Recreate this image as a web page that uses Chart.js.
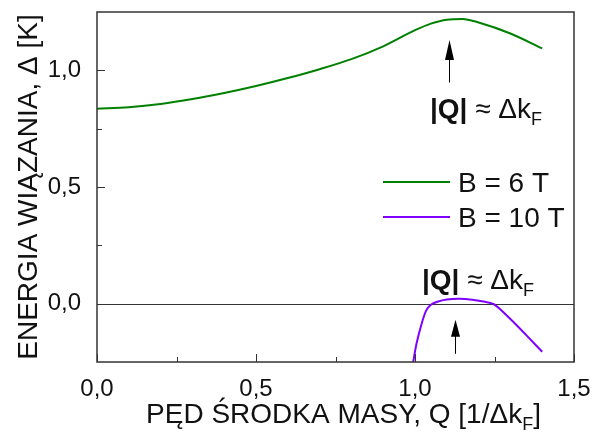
<!DOCTYPE html>
<html>
<head>
<meta charset="utf-8">
<script src="https://cdn.jsdelivr.net/npm/chart.js@4.4.1/dist/chart.umd.min.js"></script>
<style>
  html, body { margin: 0; padding: 0; background: #fff; }
  #wrap { width: 592px; height: 434px; }
</style>
</head>
<body>
<div id="wrap"><canvas id="chart" width="592" height="434"></canvas></div>
<script>
// energia wiązania w funkcji pędu środka masy
const Q_6T = [0.00, 0.10, 0.20, 0.30, 0.40, 0.50, 0.60, 0.70, 0.80, 0.90, 1.00, 1.05, 1.10, 1.15, 1.20, 1.30, 1.40];
const D_6T = [0.835, 0.842, 0.856, 0.877, 0.903, 0.933, 0.967, 1.005, 1.048, 1.103, 1.172, 1.200, 1.217, 1.220, 1.205, 1.158, 1.094];
const Q_10T = [0.993, 1.005, 1.020, 1.035, 1.050, 1.070, 1.100, 1.140, 1.180, 1.220, 1.250, 1.300, 1.350, 1.400];
const D_10T = [-0.26, -0.17, -0.09, -0.03, -0.005, 0.008, 0.018, 0.021, 0.017, 0.008, -0.004, -0.066, -0.135, -0.206];
const SERIES = ['B = 6 T', 'B = 10 T'];
const COLORS = ['#008000', '#8000ff'];

const X_TICKS = [0, 0.5, 1.0, 1.5];
const X_MINOR = [0.25, 0.75, 1.25];
const Y_TICKS = [0, 0.5, 1.0];
const Y_MINOR = [0.25, 0.75];

// strzałki |Q| ≈ Δk_F: położenie Q, początek i grot (w jednostkach Δ)
const ARROW_Q = [1.107, 1.126];
const ARROW_FROM = [0.948, -0.215];
const ARROW_TO = [1.130, -0.069];
const NOTE_Q = [1.047, 1.022];
const NOTE_D = [0.794, 0.064];

const FONT = '"Liberation Sans", Arial, sans-serif';
const fmt = v => v.toFixed(1).replace('.', ',');
const isMajor = (v, list) => list.some(t => Math.abs(t - v) < 1e-9);
const pts = (xs, ys) => xs.map((x, i) => ({ x, y: ys[i] }));

// tekst z pogrubieniem i indeksem dolnym
function drawRuns(ctx, runs, x, y, align) {
  let w = 0;
  runs.forEach(r => { ctx.font = r.font; w += ctx.measureText(r.text).width; });
  let cx = align === 'center' ? x - w / 2 : x;
  ctx.textAlign = 'left'; ctx.textBaseline = 'alphabetic';
  runs.forEach(r => {
    ctx.font = r.font;
    ctx.fillText(r.text, cx, y + (r.dy || 0));
    cx += ctx.measureText(r.text).width;
  });
}
const qRuns = () => [
  { text: '|Q|', font: 'bold 28px ' + FONT },
  { text: ' \u2248 \u0394k', font: '28px ' + FONT },
  { text: 'F', font: '18px ' + FONT, dy: 7 },
];

const decor = {
  id: 'decor',
  beforeDatasetsDraw(chart) {
    const { ctx, chartArea: a, scales: { y } } = chart;
    ctx.save();
    // linia zerowa
    ctx.strokeStyle = '#333'; ctx.lineWidth = 1;
    const y0 = Math.round(y.getPixelForValue(0)) + 0.5;
    ctx.beginPath(); ctx.moveTo(a.left, y0); ctx.lineTo(a.right, y0); ctx.stroke();
    ctx.restore();
  },
  afterDatasetsDraw(chart) {
    const { ctx, chartArea: a, scales: { x, y } } = chart;
    ctx.save();
    // ramka
    ctx.strokeStyle = '#333'; ctx.lineWidth = 1.5;
    ctx.strokeRect(a.left, a.top, a.right - a.left, a.bottom - a.top);
    // znaczniki osi do wewnątrz
    ctx.lineWidth = 1;
    X_TICKS.concat(X_MINOR).forEach(v => {
      const px = Math.round(x.getPixelForValue(v)) + 0.5, len = isMajor(v, X_TICKS) ? 8 : 5;
      ctx.beginPath(); ctx.moveTo(px, a.bottom); ctx.lineTo(px, a.bottom - len); ctx.stroke();
    });
    Y_TICKS.concat(Y_MINOR).forEach(v => {
      const py = Math.round(y.getPixelForValue(v)) + 0.5, len = isMajor(v, Y_TICKS) ? 8 : 5;
      ctx.beginPath(); ctx.moveTo(a.left, py); ctx.lineTo(a.left + len, py); ctx.stroke();
    });

    // legenda
    ctx.fillStyle = '#111';
    SERIES.forEach((s, i) => {
      const ly = 182 + i * 35;
      ctx.strokeStyle = COLORS[i]; ctx.lineWidth = 2;
      ctx.beginPath(); ctx.moveTo(383, ly); ctx.lineTo(450, ly); ctx.stroke();
      ctx.font = '28px ' + FONT; ctx.textAlign = 'left'; ctx.textBaseline = 'alphabetic';
      ctx.fillText(s, 458, ly + 10);
    });

    // strzałki i opisy
    ctx.strokeStyle = '#000'; ctx.fillStyle = '#000'; ctx.lineWidth = 1;
    ARROW_Q.forEach((q, i) => {
      const px = Math.round(x.getPixelForValue(q)) + 0.5;
      const yb = y.getPixelForValue(ARROW_FROM[i]), yt = y.getPixelForValue(ARROW_TO[i]);
      const head = i === 0 ? 20 : 17;
      ctx.beginPath(); ctx.moveTo(px, yb); ctx.lineTo(px, yt + head - 2); ctx.stroke();
      ctx.beginPath(); ctx.moveTo(px, yt); ctx.lineTo(px - 4.5, yt + head); ctx.lineTo(px + 4.5, yt + head); ctx.closePath(); ctx.fill();
    });
    ctx.fillStyle = '#111';
    NOTE_Q.forEach((q, i) => drawRuns(ctx, qRuns(), x.getPixelForValue(q), y.getPixelForValue(NOTE_D[i]), 'left'));

    // tytuł osi X
    drawRuns(ctx, [
      { text: 'P\u0118D \u015aRODKA MASY, Q [1/\u0394k', font: '28px ' + FONT },
      { text: 'F', font: '18px ' + FONT, dy: 7 },
      { text: ']', font: '28px ' + FONT },
    ], (a.left + a.right) / 2 + 8, 423, 'center');
    ctx.restore();
  },
};

new Chart(document.getElementById('chart'), {
  type: 'line',
  data: {
    datasets: [
      { label: SERIES[0], data: pts(Q_6T, D_6T), borderColor: COLORS[0], borderWidth: 2, pointRadius: 0, tension: 0.4, cubicInterpolationMode: 'monotone', fill: false, clip: 0 },
      { label: SERIES[1], data: pts(Q_10T, D_10T), borderColor: COLORS[1], borderWidth: 2, pointRadius: 0, tension: 0.3, fill: false, clip: 0 },
    ],
  },
  options: {
    responsive: false, animation: false,
    layout: { padding: { top: 12, right: 18, left: 0, bottom: 0 } },
    plugins: { legend: { display: false }, tooltip: { enabled: false } },
    scales: {
      x: {
        type: 'linear', min: 0, max: 1.5,
        afterBuildTicks: s => { s.ticks = X_TICKS.map(v => ({ value: v })); },
        afterFit: s => { s.height = 72; s.paddingLeft = 0; s.paddingRight = 0; },
        ticks: { callback: v => fmt(v), font: { family: FONT, size: 24 }, color: '#111', padding: 5, autoSkip: false, maxRotation: 0 },
        grid: { display: false }, border: { display: false },
      },
      y: {
        type: 'linear', min: -0.25, max: 1.25,
        afterBuildTicks: s => { s.ticks = Y_TICKS.map(v => ({ value: v })); },
        afterFit: s => { s.width = 97; s.paddingTop = 0; s.paddingBottom = 0; },
        ticks: { callback: v => fmt(v), font: { family: FONT, size: 24 }, color: '#111', padding: 8 },
        grid: { display: false }, border: { display: false },
        title: { display: true, text: 'ENERGIA WI\u0104ZANIA, \u0394 [K]', font: { family: FONT, size: 28 }, color: '#111', padding: { top: 12 } },
      },
    },
  },
  plugins: [decor],
});
</script>
</body>
</html>
